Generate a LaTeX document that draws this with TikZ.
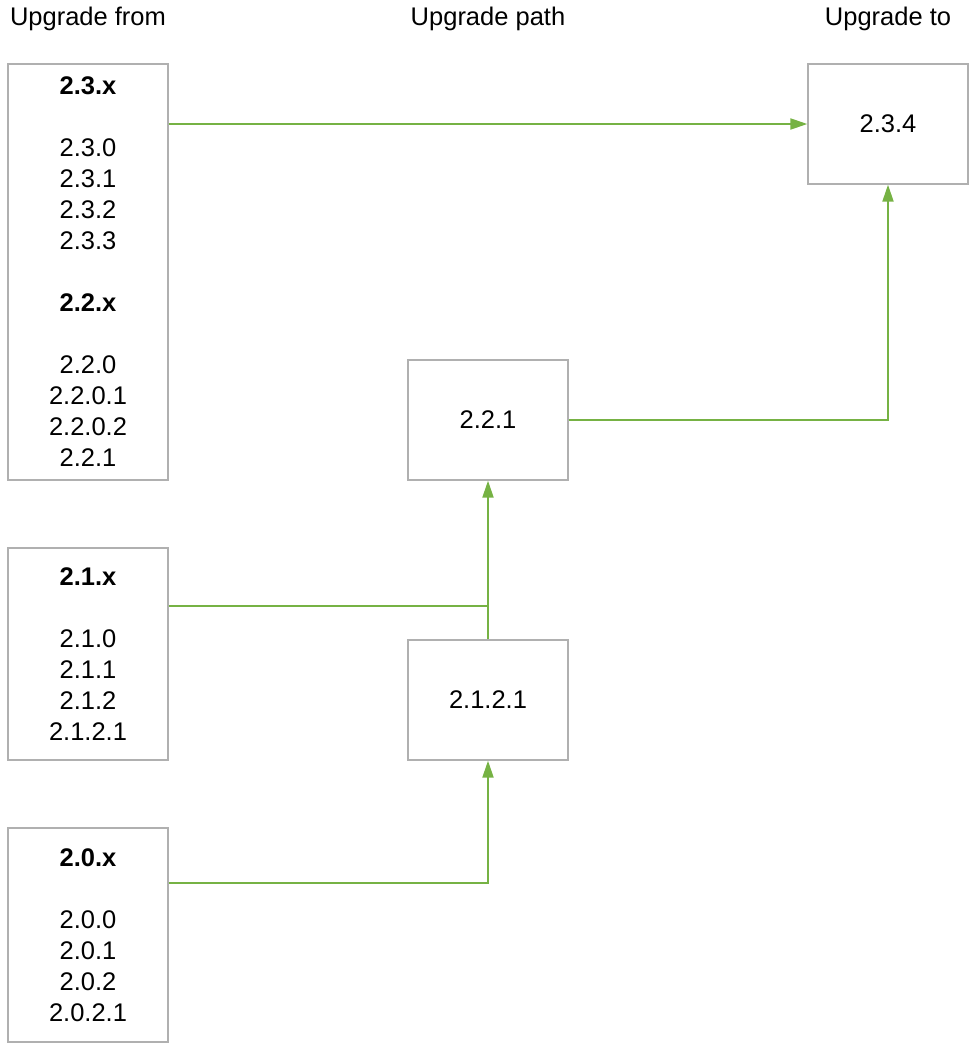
\documentclass[tikz,border=0pt]{standalone}
\usepackage{fontspec}
\setmainfont{Liberation Sans}
\usetikzlibrary{arrows.meta}
\definecolor{arrgreen}{RGB}{118,178,68}
\definecolor{boxgray}{RGB}{176,176,176}
\begin{document}
\begin{tikzpicture}[x=1pt,y=-1pt,
  every node/.style={font=\fontsize{25.5}{31}\selectfont, inner sep=0pt},
  box/.style={draw=boxgray, line width=1.3pt, minimum width=160pt, align=center},
  title/.style={font=\fontsize{25.5}{28}\selectfont},
  conn/.style={draw=arrgreen, line width=2pt},
  arr/.style={conn, -{Triangle[length=17pt,width=11pt]}}]
\useasboundingbox (0,0) rectangle (975,1050);
\node[title] (t1) at (88,19) {Upgrade from};
\node[title] (t2) at (488,19) {Upgrade path};
\node[title] (t3) at (888,19) {Upgrade to};

\node[box, minimum height=416pt] (b23) at (88,272) {\textbf{2.3.x}\\ \mbox{}\\ 2.3.0\\ 2.3.1\\ 2.3.2\\ 2.3.3\\ \mbox{}\\ \textbf{2.2.x}\\ \mbox{}\\ 2.2.0\\ 2.2.0.1\\ 2.2.0.2\\ 2.2.1};
\node[box, minimum height=212pt] (b21) at (88,654) {\textbf{2.1.x}\\ \mbox{}\\ 2.1.0\\ 2.1.1\\ 2.1.2\\ 2.1.2.1};
\node[box, minimum height=214pt] (b20) at (88,935) {\textbf{2.0.x}\\ \mbox{}\\ 2.0.0\\ 2.0.1\\ 2.0.2\\ 2.0.2.1};

\node[box, minimum height=120pt] (b234) at (888,124) {2.3.4};
\node[box, minimum height=120pt] (b221) at (488,420) {2.2.1};
\node[box, minimum height=120pt] (b2121) at (488,700) {2.1.2.1};

\coordinate (j1) at (488,606);
\coordinate (j0) at (488,883);

\draw[arr] (b23.east |- b234.west) -- (b234.west);
\draw[arr] (b221.east) -| (b234.south);
\draw[conn] (b21.east |- j1) -- (j1);
\draw[arr] (b2121.north) -- (b221.south);
\draw[arr] (b20.east |- j0) -| (b2121.south);
\end{tikzpicture}
\end{document}
